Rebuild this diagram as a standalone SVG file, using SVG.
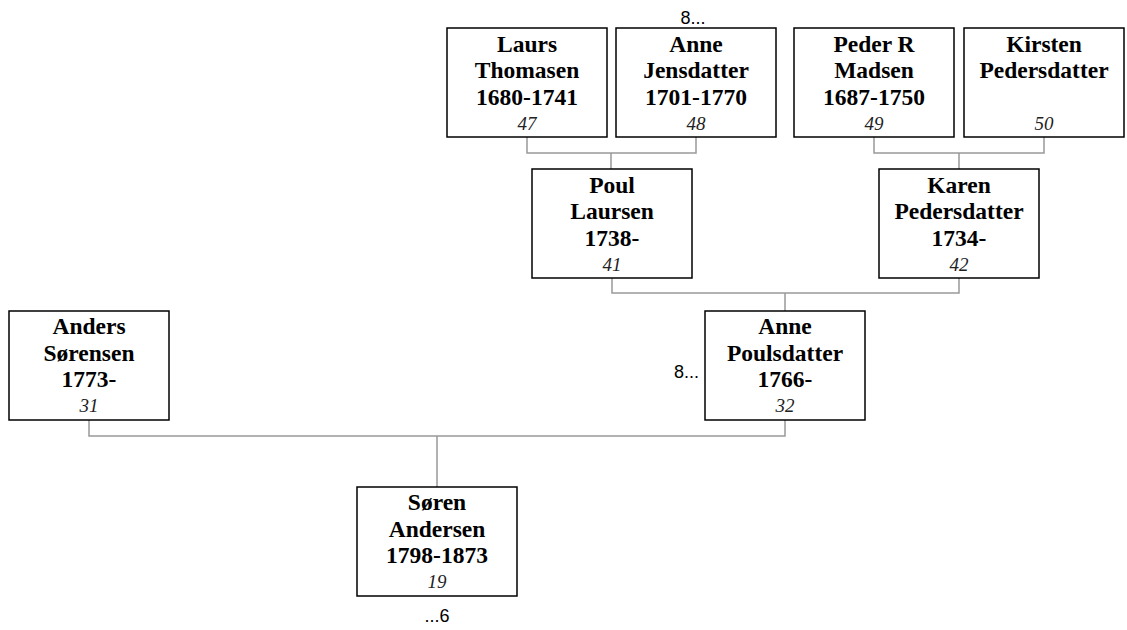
<svg xmlns="http://www.w3.org/2000/svg" width="1127" height="630" viewBox="0 0 1127 630">
<style>
.box{fill:#fff;stroke:#000;stroke-width:1.5}
.n{font-family:"Liberation Serif","Times New Roman",serif;font-weight:bold;font-size:23.5px;text-anchor:middle;fill:#000}
.i{font-family:"Liberation Serif","Times New Roman",serif;font-style:italic;font-size:19px;text-anchor:middle;fill:#222}
.c{fill:none;stroke:#999;stroke-width:1.5}
.s{font-family:"Liberation Sans",Arial,sans-serif;font-size:18px;fill:#000}
</style>
<rect width="1127" height="630" fill="#fff"/>
<g id="connectors">
<path class="c" d="M527,137V153H696V137M611,153V169"/>
<path class="c" d="M874,137V153H1044V137M959,153V169"/>
<path class="c" d="M612,278V293H959V278M785,293V311"/>
<path class="c" d="M89,420V436H785V420M437,436V487"/>
</g>
<g id="n47"><rect class="box" x="447" y="28" width="160" height="109"/><text class="n" x="527" y="52">Laurs</text><text class="n" x="527" y="78">Thomasen</text><text class="n" x="527" y="105">1680-1741</text><text class="i" x="527" y="130">47</text></g>
<g id="n48"><rect class="box" x="616" y="28" width="160" height="109"/><text class="n" x="696" y="52">Anne</text><text class="n" x="696" y="78">Jensdatter</text><text class="n" x="696" y="105">1701-1770</text><text class="i" x="696" y="130">48</text></g>
<g id="n49"><rect class="box" x="794" y="28" width="160" height="109"/><text class="n" x="874" y="52">Peder R</text><text class="n" x="874" y="78">Madsen</text><text class="n" x="874" y="105">1687-1750</text><text class="i" x="874" y="130">49</text></g>
<g id="n50"><rect class="box" x="964" y="28" width="160" height="109"/><text class="n" x="1044" y="52">Kirsten</text><text class="n" x="1044" y="78">Pedersdatter</text><text class="i" x="1044" y="130">50</text></g>
<g id="n41"><rect class="box" x="532" y="169" width="160" height="109"/><text class="n" x="612" y="193">Poul</text><text class="n" x="612" y="219">Laursen</text><text class="n" x="612" y="246">1738-</text><text class="i" x="612" y="271">41</text></g>
<g id="n42"><rect class="box" x="879" y="169" width="160" height="109"/><text class="n" x="959" y="193">Karen</text><text class="n" x="959" y="219">Pedersdatter</text><text class="n" x="959" y="246">1734-</text><text class="i" x="959" y="271">42</text></g>
<g id="n32"><rect class="box" x="705" y="311" width="160" height="109"/><text class="n" x="785" y="334">Anne</text><text class="n" x="785" y="361">Poulsdatter</text><text class="n" x="785" y="387">1766-</text><text class="i" x="785" y="412">32</text></g>
<g id="n31"><rect class="box" x="9" y="311" width="160" height="109"/><text class="n" x="89" y="334">Anders</text><text class="n" x="89" y="361">Sørensen</text><text class="n" x="89" y="387">1773-</text><text class="i" x="89" y="412">31</text></g>
<g id="n19"><rect class="box" x="357" y="487" width="160" height="109"/><text class="n" x="437" y="510">Søren</text><text class="n" x="437" y="537">Andersen</text><text class="n" x="437" y="563">1798-1873</text><text class="i" x="437" y="588">19</text></g>
<text class="s" x="693" y="24" text-anchor="middle">8...</text>
<text class="s" x="699" y="378" text-anchor="end">8...</text>
<text class="s" x="437" y="622" text-anchor="middle">...6</text>
</svg>
